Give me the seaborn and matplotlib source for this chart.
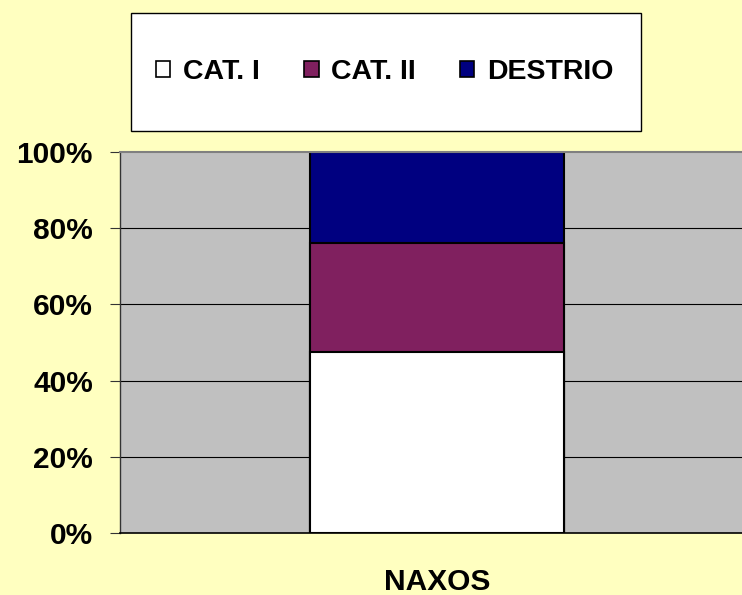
import numpy as np
import pandas as pd
import matplotlib
matplotlib.use("Agg")
import matplotlib.pyplot as plt
import seaborn as sns
from matplotlib.patches import Patch, Rectangle

categories = ["NAXOS"]
series_names = ["CAT. I", "CAT. II", "DESTRIO"]
cat1 = [47.5]
cat2 = [28.6]
destrio = [23.9]
series_colors = ["#FFFFFF", "#80205F", "#000080"]
ytick_values = [0, 20, 40, 60, 80, 100]
ytick_labels = ["0%", "20%", "40%", "60%", "80%", "100%"]

sns.set_theme(style="white")
plt.rcParams["font.family"] = ["Liberation Sans", "DejaVu Sans"]
plt.rcParams["text.color"] = "black"
plt.rcParams["xtick.color"] = "black"
plt.rcParams["ytick.color"] = "black"

fig = plt.figure(figsize=(7.42, 5.95), dpi=100, facecolor="#FFFFC0")
ax = fig.add_axes([120 / 742, 62 / 595, 635 / 742, 381 / 595])
ax.set_facecolor("#C0C0C0")

df = pd.DataFrame({"cat": categories, "s1": cat1, "s2": cat2, "s3": destrio})
df["c1"] = df["s1"]
df["c2"] = df["s1"] + df["s2"]
df["c3"] = df["s1"] + df["s2"] + df["s3"]

# horizontal gridlines
for v in ytick_values[1:-1]:
    ax.axhline(v, color="#000000", lw=0.8, zorder=0.5)

# stacked: draw cumulative totals from top down
for col, colr in zip(["c3", "c2", "c1"], series_colors[::-1]):
    sns.barplot(data=df, x="cat", y=col, color=colr, saturation=1, width=0.4,
                edgecolor="black", linewidth=1.5, ax=ax, zorder=2)

ax.set_ylim(0, 100)
ax.set_xlim(-0.5, 0.5)
ax.set_yticks(ytick_values)
ax.set_yticklabels(ytick_labels, fontsize=21.5, fontweight="bold")
ax.set_xticks([0])
ax.set_xticklabels(categories, fontsize=21.5, fontweight="bold")
ax.set_xlabel("")
ax.set_ylabel("")
ax.tick_params(axis="y", direction="out", length=7.5, width=0.8, color="#333333",
               pad=12, left=True, labelcolor="black")
ax.tick_params(axis="x", length=0, pad=25, labelcolor="black")

for s in ["left", "bottom", "top", "right"]:
    ax.spines[s].set_visible(True)
ax.spines["left"].set_color("#333333")
ax.spines["left"].set_linewidth(1.0)
ax.spines["bottom"].set_color("#000000")
ax.spines["bottom"].set_linewidth(1.2)
ax.spines["top"].set_color("#808080")
ax.spines["top"].set_linewidth(1.5)
ax.spines["right"].set_visible(False)

# legend frame
fig.patches.append(Rectangle((131 / 742, 1 - 131 / 595), 510 / 742, 118 / 595,
                             transform=fig.transFigure, facecolor="white",
                             edgecolor="black", linewidth=1.0, zorder=1))
handles = [Patch(facecolor=c, edgecolor="black", linewidth=1.2) for c in series_colors]
leg = fig.legend(handles, series_names, loc="center",
                 bbox_to_anchor=(385 / 742, 1 - 72 / 595), ncol=3, frameon=False,
                 prop={"weight": "bold", "size": 20.5}, handlelength=0.5,
                 handleheight=0.5, handletextpad=0.45, columnspacing=1.55)
for t in leg.get_texts():
    t.set_color("black")
leg.set_zorder(3)

fig.savefig("out.png", dpi=100, facecolor=fig.get_facecolor())
